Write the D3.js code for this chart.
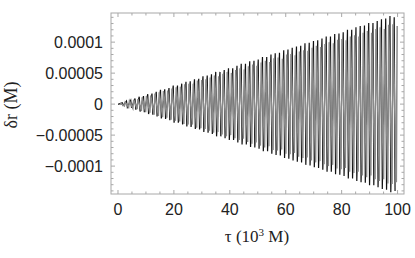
<!DOCTYPE html>
<html><head><meta charset="utf-8">
<script src="https://cdn.jsdelivr.net/npm/d3@7"></script>
<style>html,body{margin:0;padding:0;background:#fff;}svg{display:block;}</style>
</head><body><svg id="c" width="415" height="258"></svg>
<script>
// swing amplitude of each oscillation, in units of 1e-5 M
const blackAmp = [0.0,0.2,0.5,0.6,0.9,1.2,1.3,1.6,1.7,2.0,
2.3,2.4,2.6,3.0,3.0,3.3,3.6,3.7,4.0,4.1,
4.5,4.6,4.8,5.2,5.2,5.5,5.8,5.8,6.2,6.5,
6.5,6.9,7.0,7.2,7.6,7.6,8.0,8.2,8.3,8.7,
8.8,9.1,9.3,9.4,9.8,9.9,10.2,10.3,10.6,10.9,
10.9,11.3,11.4,11.6,12.0,12.0,12.4,12.6,12.7,13.1,
13.1,13.4,13.7,13.8,14.2,14.0];
const grayAmp = [0.1,0.3,0.5,0.7,0.8,1.1,1.3,1.4,1.7,1.9,
2.1,2.2,2.5,2.7,2.8,3.2,3.3,3.3,3.8,3.9,
4.0,4.3,4.6,4.5,4.9,5.2,5.0,5.5,5.8,5.6,
6.1,6.4,6.2,6.7,7.0,6.8,7.4,7.5,7.3,8.0,
8.1,7.9,8.5,8.7,8.6,9.1,9.4,9.2,9.7,10.0,
9.8,10.4,10.5,10.3,10.9,11.1,10.9,11.5,11.8,11.5,
12.1,12.4,12.1,12.8,12.9,12.6];
const blackStep = 1.52;   // oscillation spacing, 10^3 M
const grayStep = 1.52;
const grayStart = 0.76;
const swingWidth = 0.3;   // duration of the fast swing, 10^3 M
const xTicks = [0,20,40,60,80,100];
const xTickLabels = ["0","20","40","60","80","100"];
const yTicks = [0.0001,0.00005,0,-0.00005,-0.0001];
const yTickLabels = ["0.0001","0.00005","0","\u22120.00005","\u22120.0001"];

const svg = d3.select("#c");
const L=111,R=404,T=13,B=194;
const x = d3.scaleLinear().domain([-2.5,102.3]).range([L,R]);
const y = d3.scaleLinear().domain([-0.000145,0.000147]).range([B,T]);

function pts(amp, step, t0, s){
  const p=[];
  amp.forEach((a,i)=>{
    const t=t0+i*step;
    p.push([t, s*a*1e-5]);
    p.push([t+swingWidth, -s*a*1e-5]);
  });
  return p;
}
const line = d3.line().x(d=>x(d[0])).y(d=>y(d[1]));
svg.append("path").attr("d",line(pts(blackAmp,blackStep,0,1))).attr("fill","none")
  .attr("stroke","#111").attr("stroke-width",1.2);
svg.append("path").attr("d",line(pts(grayAmp,grayStep,grayStart,-1))).attr("fill","none")
  .attr("stroke","#8a8a8a").attr("stroke-width",1.5);

// frame
svg.append("rect").attr("x",L).attr("y",T).attr("width",R-L).attr("height",B-T)
  .attr("fill","none").attr("stroke","#a8a8a8").attr("stroke-width",1);
const tc="#a8a8a8";
d3.range(0,101,5).forEach(v=>{
  const len = v%20===0?4:2.5;
  const px=x(v);
  svg.append("line").attr("x1",px).attr("x2",px).attr("y1",B).attr("y2",B-len).attr("stroke",tc);
  svg.append("line").attr("x1",px).attr("x2",px).attr("y1",T).attr("y2",T+len).attr("stroke",tc);
});
d3.range(-14,15,1).forEach(k=>{
  const v=k*1e-5;
  const len = k%5===0?4:2.5;
  const py=y(v);
  svg.append("line").attr("x1",L).attr("x2",L+len).attr("y1",py).attr("y2",py).attr("stroke",tc);
  svg.append("line").attr("x1",R).attr("x2",R-len).attr("y1",py).attr("y2",py).attr("stroke",tc);
});
const font="'Liberation Sans', Arial, sans-serif";
xTicks.forEach((v,i)=>{
  svg.append("text").attr("x",x(v)).attr("y",215).attr("text-anchor","middle")
    .attr("font-family",font).attr("font-size",16).attr("fill","#222").text(xTickLabels[i]);
});
yTicks.forEach((v,i)=>{
  svg.append("text").attr("x",103).attr("y",y(v)+6).attr("text-anchor","end")
    .attr("font-family",font).attr("font-size",16).attr("fill","#222").text(yTickLabels[i]);
});
const serif="'Liberation Serif','Times New Roman',serif";
const xt = svg.append("text").attr("x",257).attr("y",242).attr("text-anchor","middle")
  .attr("font-family",serif).attr("font-size",17).attr("fill","#222");
xt.append("tspan").text("\u03c4 (10");
xt.append("tspan").attr("font-size",11).attr("dy",-6).text("3");
xt.append("tspan").attr("dy",6).text(" M)");
svg.append("text").attr("transform","translate(17,105) rotate(-90)").attr("text-anchor","middle")
  .attr("font-family",serif).attr("font-size",18).attr("fill","#222").text("\u03b4r (M)");
</script></body></html>
